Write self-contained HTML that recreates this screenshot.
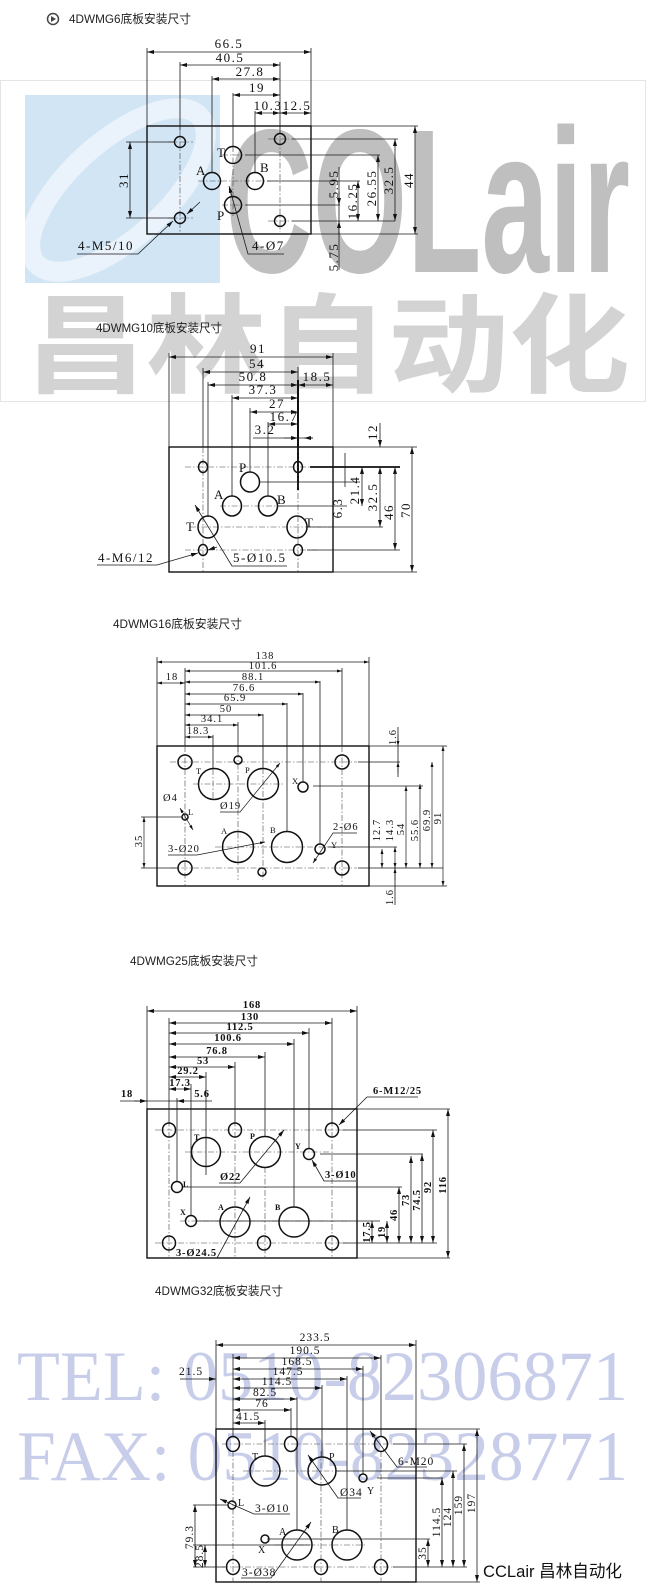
<!DOCTYPE html>
<html><head><meta charset="utf-8"><style>
html,body{margin:0;padding:0;background:#fff;}
svg{display:block}
</style></head><body>
<svg width="647" height="1592" viewBox="0 0 647 1592" xmlns="http://www.w3.org/2000/svg">
<defs>
<marker id="a" markerUnits="userSpaceOnUse" markerWidth="7" markerHeight="4" refX="7" refY="2" orient="auto-start-reverse"><path d="M0,0L7,2L0,4z" fill="#111"/></marker>
<marker id="s" markerUnits="userSpaceOnUse" markerWidth="5" markerHeight="3" refX="5" refY="1.5" orient="auto-start-reverse"><path d="M0,0L5,1.5L0,3z" fill="#111"/></marker>
<clipPath id="bc"><rect x="25" y="95" width="195" height="188"/></clipPath>
</defs>
<style>
.l{stroke:#1a1a1a;stroke-width:.8;fill:none}
.d{stroke:#1a1a1a;stroke-width:.8;fill:none;marker-start:url(#a);marker-end:url(#a)}
.e{stroke:#1a1a1a;stroke-width:.8;fill:none;marker-end:url(#a)}
.ds{stroke:#1a1a1a;stroke-width:.7;fill:none;marker-start:url(#s);marker-end:url(#s)}
.es{stroke:#1a1a1a;stroke-width:.7;fill:none;marker-end:url(#s)}
.c{stroke:#111;stroke-width:1.5;fill:none}
.k{stroke:#444;stroke-width:.6;fill:none;stroke-dasharray:6 2 1.5 2}
.r{stroke:#111;stroke-width:1.4;fill:none}
.t{font-family:"Liberation Serif",serif;fill:#111}
.m{text-anchor:middle}
</style>

<!-- watermark -->
<rect x="0.5" y="80.5" width="645" height="321" fill="none" stroke="#e4e4e4"/>
<rect x="25" y="95" width="195" height="188" fill="#d2e5f4"/>
<g clip-path="url(#bc)">
<ellipse cx="118" cy="190" rx="110" ry="48" transform="rotate(-42 118 190)" fill="none" stroke="#eef5fb" stroke-width="20" opacity=".85"/>
</g>
<text x="225" y="272" font-family="Liberation Sans, sans-serif" font-weight="bold" font-size="205" fill="#bfbfbf" textLength="405" lengthAdjust="spacingAndGlyphs">COLair</text>
<text x="25" y="384" font-family="Noto Sans CJK SC, sans-serif" font-weight="bold" font-size="108" fill="#d3d3d3" textLength="605" lengthAdjust="spacingAndGlyphs">昌林自动化</text>
<text x="17" y="1400" font-family="Liberation Serif, serif" font-size="71" fill="#c8cee9" textLength="611" lengthAdjust="spacingAndGlyphs">TEL: 0510-82306871</text>
<text x="17" y="1480" font-family="Liberation Serif, serif" font-size="71" fill="#c8cee9" textLength="611" lengthAdjust="spacingAndGlyphs">FAX: 0510-82328771</text>

<!-- titles -->
<circle cx="53" cy="19" r="5.5" fill="#fff" stroke="#444" stroke-width="1.5"/>
<path d="M51 16L56 19L51 22z" fill="#444"/>
<g font-family="Liberation Sans, Noto Sans CJK SC, sans-serif" font-size="12" fill="#222">
<text x="69" y="23" textLength="122" lengthAdjust="spacingAndGlyphs">4DWMG6底板安装尺寸</text>
<text x="96" y="332" textLength="126" lengthAdjust="spacingAndGlyphs">4DWMG10底板安装尺寸</text>
<text x="113" y="628" textLength="129" lengthAdjust="spacingAndGlyphs">4DWMG16底板安装尺寸</text>
<text x="130" y="965" textLength="128" lengthAdjust="spacingAndGlyphs">4DWMG25底板安装尺寸</text>
<text x="155" y="1295" textLength="128" lengthAdjust="spacingAndGlyphs">4DWMG32底板安装尺寸</text>
</g>

<!-- ================= G6 ================= -->
<rect class="r" x="147" y="126" width="164" height="108"/>
<path class="l" d="M147 48V126 M311 48V126 M180 62V130 M212 76V172 M233 93V146 M255 111V172 M280 62V133"/>
<path class="k" d="M180 130V232 M280 128V232 M233 146V216 M198 181H270 M168 142H193 M168 218H193 M268 139H292 M268 221H292 M222 155H245 M222 205H245"/>
<circle class="c" cx="180" cy="142" r="5.5"/>
<circle class="c" cx="180" cy="218" r="5.5"/>
<circle class="c" cx="280" cy="139" r="5.5"/>
<circle class="c" cx="280" cy="221" r="5.5"/>
<circle class="c" cx="233" cy="155" r="8.5"/>
<circle class="c" cx="212" cy="181" r="8.5"/>
<circle class="c" cx="255" cy="181" r="8.5"/>
<circle class="c" cx="233" cy="205" r="8.5"/>
<line class="d" x1="147" y1="52" x2="311" y2="52"/>
<line class="d" x1="180" y1="65" x2="280" y2="65"/>
<line class="d" x1="212" y1="79" x2="280" y2="79"/>
<line class="d" x1="233" y1="95" x2="280" y2="95"/>
<line class="d" x1="255" y1="113" x2="280" y2="113"/>
<line class="d" x1="280" y1="113" x2="311" y2="113"/>
<path class="l" d="M311 126H418 M311 234H418 M292 139H398 M245 155H380 M267 181H360 M245 205H340 M292 221H395 M126 142H174 M126 218H174 M339 167V270"/>
<line class="d" x1="415" y1="126" x2="415" y2="234"/>
<line class="d" x1="395" y1="139" x2="395" y2="221"/>
<line class="d" x1="378" y1="155" x2="378" y2="221"/>
<line class="d" x1="358" y1="181" x2="358" y2="221"/>
<line class="e" x1="339" y1="192" x2="339" y2="205"/>
<line class="e" x1="339" y1="234" x2="339" y2="221"/>
<line class="d" x1="130" y1="142" x2="130" y2="218"/>
<path class="e" d="M77 254H138L173 221"/>
<line class="e" x1="200" y1="202" x2="187" y2="214"/>
<path class="e" d="M284 254H248L229 186"/>
<g class="t" font-size="13" letter-spacing="1.5">
<text class="m" x="229" y="48">66.5</text>
<text class="m" x="230" y="62">40.5</text>
<text class="m" x="250" y="76">27.8</text>
<text class="m" x="257" y="92">19</text>
<text class="m" x="268" y="110">10.3</text>
<text class="m" x="297" y="110">12.5</text>
<text class="m" transform="translate(413,180) rotate(-90)">44</text>
<text class="m" transform="translate(393,180) rotate(-90)">32.5</text>
<text class="m" transform="translate(376,188) rotate(-90)">26.55</text>
<text class="m" transform="translate(357,201) rotate(-90)">16.25</text>
<text class="m" transform="translate(338,184) rotate(-90)">5.95</text>
<text class="m" transform="translate(338,257) rotate(-90)">5.75</text>
<text class="m" transform="translate(128,180) rotate(-90)">31</text>
<text x="78" y="250">4-M5/10</text>
<text x="252" y="250">4-Ø7</text>
<text x="217" y="157" letter-spacing="0">T</text>
<text x="196" y="175" letter-spacing="0">A</text>
<text x="260" y="172" letter-spacing="0">B</text>
<text x="217" y="220" letter-spacing="0">P</text>
</g>

<!-- ================= G10 ================= -->
<rect class="r" x="169" y="447" width="164" height="125"/>
<path class="l" d="M169 353V447 M333 353V447 M203 368V447 M208 382V517 M232 395V496 M250 408V472 M268 422V496 M298 367V460"/>
<path d="M298 380V490" stroke="#111" stroke-width="2"/>
<path class="k" d="M203 447V572 M298 447V572 M185 467H318 M220 506H285 M190 527H330 M185 550H318"/>
<ellipse class="c" cx="203" cy="467" rx="4.5" ry="5.5"/>
<ellipse class="c" cx="298" cy="467" rx="4.5" ry="5.5"/>
<ellipse class="c" cx="203" cy="550" rx="4.5" ry="5.5"/>
<ellipse class="c" cx="298" cy="550" rx="4.5" ry="5.5"/>
<ellipse class="c" cx="250" cy="482" rx="9.5" ry="10"/>
<ellipse class="c" cx="232" cy="506" rx="9.5" ry="10"/>
<ellipse class="c" cx="268" cy="506" rx="9.5" ry="10"/>
<ellipse class="c" cx="208" cy="527" rx="10" ry="11"/>
<ellipse class="c" cx="297" cy="527" rx="10" ry="11"/>
<line class="d" x1="169" y1="357" x2="333" y2="357"/>
<line class="d" x1="203" y1="372" x2="298" y2="372"/>
<line class="d" x1="208" y1="385" x2="298" y2="385"/>
<line class="d" x1="298" y1="385" x2="333" y2="385"/>
<line class="d" x1="232" y1="398" x2="298" y2="398"/>
<line class="d" x1="250" y1="412" x2="298" y2="412"/>
<line class="d" x1="268" y1="424" x2="298" y2="424"/>
<path class="l" d="M253 438H313"/>
<line class="e" x1="284" y1="438" x2="298" y2="438"/>
<line class="e" x1="313" y1="438" x2="304" y2="438"/>
<path class="l" d="M333 447H417 M333 572H417 M260 482H360 M277 506H347 M307 527H383 M307 550H400 M345 453V487"/>
<path d="M310 467H400" stroke="#111" stroke-width="1.8"/>
<line class="e" x1="380" y1="423" x2="380" y2="447"/>
<line class="d" x1="380" y1="467" x2="380" y2="527"/>
<line class="d" x1="362" y1="467" x2="362" y2="506"/>
<line class="d" x1="395" y1="467" x2="395" y2="550"/>
<line class="d" x1="412" y1="447" x2="412" y2="572"/>
<path class="e" d="M97 565H157L198 553"/>
<line class="e" x1="217" y1="547" x2="208" y2="550"/>
<path class="e" d="M287 566H232L195 505"/>
<g class="t" font-size="13" letter-spacing="1.5">
<text class="m" x="258" y="353">91</text>
<text class="m" x="257" y="368">54</text>
<text class="m" x="253" y="381">50.8</text>
<text class="m" x="317" y="381">18.5</text>
<text class="m" x="263" y="394">37.3</text>
<text class="m" x="277" y="408">27</text>
<text class="m" x="284" y="421">16.7</text>
<text class="m" x="265" y="434">3.2</text>
<text class="m" transform="translate(377,432) rotate(-90)">12</text>
<text class="m" transform="translate(377,497) rotate(-90)">32.5</text>
<text class="m" transform="translate(359,490) rotate(-90)">21.4</text>
<text class="m" transform="translate(342,508) rotate(-90)">6.3</text>
<text class="m" transform="translate(393,512) rotate(-90)">46</text>
<text class="m" transform="translate(410,510) rotate(-90)">70</text>
<text x="98" y="562">4-M6/12</text>
<text x="233" y="562">5-Ø10.5</text>
<text x="239" y="472" letter-spacing="0">P</text>
<text x="214" y="499" letter-spacing="0">A</text>
<text x="277" y="504" letter-spacing="0">B</text>
<text x="186" y="531" letter-spacing="0">T</text>
<text x="305" y="527" letter-spacing="0">T</text>
</g>

<!-- ================= G16 ================= -->
<rect class="r" x="157" y="746" width="212" height="140"/>
<path class="l" d="M157 657V746 M369 657V746 M185 668V746 M213 735V769 M238 722V752 M263 714V768 M287 703V832 M303 693V782 M320 681V844 M342 668V746"/>
<path class="k" d="M185 746V886 M342 746V886 M238 752V880 M263 768V880 M213 769V800 M170 762H357 M193 784H285 M215 847H340 M170 868H357"/>
<circle class="c" cx="185" cy="762" r="7"/>
<circle class="c" cx="342" cy="762" r="7"/>
<circle class="c" cx="185" cy="868" r="7"/>
<circle class="c" cx="342" cy="868" r="7"/>
<circle class="c" cx="238" cy="760" r="4"/>
<circle class="c" cx="262" cy="872" r="4"/>
<circle class="c" cx="214" cy="784" r="15.5"/>
<circle class="c" cx="263" cy="784" r="15.5"/>
<circle class="c" cx="238" cy="847" r="15.5"/>
<circle class="c" cx="287" cy="847" r="15.5"/>
<circle class="c" cx="303" cy="787" r="5"/>
<circle class="c" cx="320" cy="849" r="5"/>
<circle class="c" cx="185" cy="817" r="3"/>
<line class="ds" x1="157" y1="662" x2="369" y2="662"/>
<line class="ds" x1="185" y1="671" x2="342" y2="671"/>
<line class="ds" x1="185" y1="682" x2="320" y2="682"/>
<line class="ds" x1="157" y1="683" x2="185" y2="683"/>
<line class="ds" x1="185" y1="694" x2="303" y2="694"/>
<line class="ds" x1="185" y1="704" x2="287" y2="704"/>
<line class="ds" x1="185" y1="715" x2="263" y2="715"/>
<line class="ds" x1="185" y1="725" x2="238" y2="725"/>
<line class="ds" x1="185" y1="737" x2="213" y2="737"/>
<path class="l" d="M369 746H447 M369 886H447 M358 762H400 M313 786H423 M328 847H397 M358 868H443 M141 817H182 M141 868H178 M398 727V777 M395 868V905"/>
<line class="es" x1="398" y1="735" x2="398" y2="746"/>
<line class="es" x1="398" y1="773" x2="398" y2="762"/>
<line class="es" x1="395" y1="880" x2="395" y2="868"/>
<line class="ds" x1="382" y1="849" x2="382" y2="868"/>
<line class="ds" x1="395" y1="847" x2="395" y2="868"/>
<line class="ds" x1="406" y1="786" x2="406" y2="868"/>
<line class="ds" x1="420" y1="784" x2="420" y2="868"/>
<line class="ds" x1="432" y1="762" x2="432" y2="868"/>
<line class="ds" x1="443" y1="746" x2="443" y2="886"/>
<line class="ds" x1="144" y1="817" x2="144" y2="868"/>
<line class="ds" x1="180" y1="808" x2="193" y2="830"/>
<path class="es" d="M220 812H240L280 763"/>
<path class="es" d="M168 855H197L265 842"/>
<path class="es" d="M357 833H333L313 863"/>
<g class="t" font-size="10.5" letter-spacing="1">
<text class="m" x="265" y="659">138</text>
<text class="m" x="263" y="669">101.6</text>
<text class="m" x="253" y="680">88.1</text>
<text class="m" x="172" y="680">18</text>
<text class="m" x="244" y="691">76.6</text>
<text class="m" x="235" y="701">65.9</text>
<text class="m" x="226" y="712">50</text>
<text class="m" x="212" y="722">34.1</text>
<text class="m" x="198" y="734">18.3</text>
<text class="m" transform="translate(396,737) rotate(-90)">1.6</text>
<text class="m" transform="translate(393,897) rotate(-90)">1.6</text>
<text class="m" transform="translate(380,830) rotate(-90)">12.7</text>
<text class="m" transform="translate(393,830) rotate(-90)">14.3</text>
<text class="m" transform="translate(404,829) rotate(-90)">54</text>
<text class="m" transform="translate(418,830) rotate(-90)">55.6</text>
<text class="m" transform="translate(430,820) rotate(-90)">69.9</text>
<text class="m" transform="translate(441,818) rotate(-90)">91</text>
<text class="m" transform="translate(142,841) rotate(-90)">35</text>
<text x="163" y="801">Ø4</text>
<text x="220" y="809">Ø19</text>
<text x="168" y="852">3-Ø20</text>
<text x="333" y="830">2-Ø6</text>
</g>
<g class="t" font-size="8.5">
<text x="196" y="774">T</text>
<text x="245" y="773">P</text>
<text x="292" y="784">X</text>
<text x="221" y="834">A</text>
<text x="270" y="833">B</text>
<text x="331" y="848">Y</text>
<text x="188" y="815">L</text>
</g>

<!-- ================= G25 ================= -->
<rect class="r" x="147" y="1109" width="210" height="149"/>
<path class="l" d="M147 1006V1109 M357 1006V1109 M169 1018V1123 M177 1098V1181 M191 1084V1215 M206 1072V1175 M235 1062V1123 M265 1052V1137 M294 1039V1207 M309 1028V1148 M332 1018V1123"/>
<path class="k" d="M169 1109V1258 M235 1109V1258 M332 1109V1258 M265 1167V1258 M155 1130H345 M185 1152H330 M180 1221H350 M155 1243H345"/>
<ellipse class="c" cx="169" cy="1130" rx="6.5" ry="7"/>
<ellipse class="c" cx="235" cy="1130" rx="6.5" ry="7"/>
<ellipse class="c" cx="332" cy="1130" rx="6.5" ry="7"/>
<ellipse class="c" cx="169" cy="1243" rx="6.5" ry="7"/>
<ellipse class="c" cx="264" cy="1243" rx="6.5" ry="7"/>
<ellipse class="c" cx="332" cy="1243" rx="6.5" ry="7"/>
<circle class="c" cx="206" cy="1152" r="14.5"/>
<circle class="c" cx="265" cy="1152" r="15.5"/>
<circle class="c" cx="235" cy="1222" r="15"/>
<circle class="c" cx="294" cy="1222" r="15"/>
<circle class="c" cx="309" cy="1154" r="5.5"/>
<circle class="c" cx="177" cy="1187" r="5.5"/>
<circle class="c" cx="191" cy="1221" r="5.5"/>
<line class="d" x1="147" y1="1011" x2="357" y2="1011"/>
<line class="d" x1="169" y1="1023" x2="332" y2="1023"/>
<line class="d" x1="169" y1="1033" x2="309" y2="1033"/>
<line class="d" x1="169" y1="1044" x2="294" y2="1044"/>
<line class="d" x1="169" y1="1057" x2="265" y2="1057"/>
<line class="d" x1="169" y1="1067" x2="235" y2="1067"/>
<line class="d" x1="169" y1="1077" x2="206" y2="1077"/>
<line class="d" x1="169" y1="1089" x2="191" y2="1089"/>
<path class="l" d="M120 1101H212"/>
<line class="e" x1="134" y1="1101" x2="147" y2="1101"/>
<line class="e" x1="185" y1="1101" x2="177" y2="1101"/>
<path class="l" d="M357 1109H450 M357 1258H450 M343 1130H437 M320 1154H423 M183 1187H402 M197 1221H380 M343 1243H437"/>
<line class="d" x1="448" y1="1109" x2="448" y2="1258"/>
<line class="d" x1="433" y1="1130" x2="433" y2="1243"/>
<line class="d" x1="422" y1="1154" x2="422" y2="1243"/>
<line class="d" x1="411" y1="1156" x2="411" y2="1243"/>
<line class="d" x1="399" y1="1187" x2="399" y2="1243"/>
<line class="d" x1="387" y1="1221" x2="387" y2="1243"/>
<line class="d" x1="372" y1="1221" x2="372" y2="1243"/>
<path class="e" d="M418 1097H367L339 1125"/>
<path class="e" d="M219 1183H240L284 1130"/>
<path class="e" d="M356 1181H324L312 1160"/>
<path class="e" d="M175 1258H217L250 1197"/>
<g class="t" font-size="10.5" font-weight="bold" letter-spacing="0.8">
<text class="m" x="252" y="1008">168</text>
<text class="m" x="250" y="1020">130</text>
<text class="m" x="240" y="1030">112.5</text>
<text class="m" x="228" y="1041">100.6</text>
<text class="m" x="217" y="1054">76.8</text>
<text class="m" x="203" y="1064">53</text>
<text class="m" x="188" y="1074">29.2</text>
<text class="m" x="180" y="1086">17.3</text>
<text class="m" x="127" y="1097">18</text>
<text class="m" x="202" y="1097">5.6</text>
<text class="m" transform="translate(446,1185) rotate(-90)">116</text>
<text class="m" transform="translate(431,1187) rotate(-90)">92</text>
<text class="m" transform="translate(420,1200) rotate(-90)">74.5</text>
<text class="m" transform="translate(409,1200) rotate(-90)">73</text>
<text class="m" transform="translate(397,1215) rotate(-90)">46</text>
<text class="m" transform="translate(385,1232) rotate(-90)">19</text>
<text class="m" transform="translate(370,1232) rotate(-90)">17.5</text>
<text x="373" y="1094">6-M12/25</text>
<text x="220" y="1180">Ø22</text>
<text x="325" y="1178">3-Ø10</text>
<text x="176" y="1256">3-Ø24.5</text>
</g>
<g class="t" font-size="8" font-weight="bold">
<text x="194" y="1140">T</text>
<text x="250" y="1139">P</text>
<text x="295" y="1149">Y</text>
<text x="183" y="1187">L</text>
<text x="180" y="1215">X</text>
<text x="218" y="1210">A</text>
<text x="275" y="1210">B</text>
</g>

<!-- ================= G32 ================= -->
<rect class="r" x="216" y="1429" width="200" height="153"/>
<path class="l" d="M216 1340V1429 M416 1340V1429 M233 1354V1437 M265 1420V1456 M291 1408V1437 M297 1397V1530 M322 1385V1457 M347 1376V1530 M363 1366V1474 M381 1355V1437"/>
<path class="k" d="M233 1451V1582 M381 1451V1582 M321 1451V1582 M222 1444H395 M243 1471H345 M275 1545H365 M222 1567H395"/>
<ellipse class="c" cx="233" cy="1444" rx="6.5" ry="7.5"/>
<ellipse class="c" cx="291" cy="1444" rx="6.5" ry="7.5"/>
<ellipse class="c" cx="381" cy="1444" rx="6.5" ry="7.5"/>
<ellipse class="c" cx="233" cy="1567" rx="6.5" ry="7.5"/>
<ellipse class="c" cx="321" cy="1567" rx="6.5" ry="7.5"/>
<ellipse class="c" cx="381" cy="1567" rx="6.5" ry="7.5"/>
<circle class="c" cx="265" cy="1471" r="15"/>
<circle class="c" cx="322" cy="1471" r="14"/>
<circle class="c" cx="297" cy="1545" r="15"/>
<circle class="c" cx="347" cy="1545" r="15"/>
<circle class="c" cx="363" cy="1478" r="4"/>
<circle class="c" cx="232" cy="1505" r="4"/>
<circle class="c" cx="265" cy="1539" r="4"/>
<line class="d" x1="216" y1="1345" x2="416" y2="1345"/>
<line class="d" x1="233" y1="1358" x2="381" y2="1358"/>
<line class="d" x1="233" y1="1369" x2="363" y2="1369"/>
<line class="d" x1="233" y1="1379" x2="347" y2="1379"/>
<line class="e" x1="180" y1="1379" x2="216" y2="1379"/>
<line class="d" x1="233" y1="1388" x2="322" y2="1388"/>
<line class="d" x1="233" y1="1399" x2="297" y2="1399"/>
<line class="d" x1="233" y1="1410" x2="291" y2="1410"/>
<line class="d" x1="233" y1="1423" x2="265" y2="1423"/>
<path class="l" d="M416 1429H480 M416 1582H480 M393 1444H467 M337 1471H457 M377 1478H443 M267 1539H430 M193 1545H310 M393 1567H467 M193 1567H225 M193 1505H228"/>
<line class="d" x1="477" y1="1429" x2="477" y2="1582"/>
<line class="d" x1="464" y1="1444" x2="464" y2="1567"/>
<line class="d" x1="453" y1="1471" x2="453" y2="1567"/>
<line class="d" x1="442" y1="1478" x2="442" y2="1567"/>
<line class="d" x1="428" y1="1539" x2="428" y2="1567"/>
<line class="d" x1="195" y1="1505" x2="195" y2="1567"/>
<line class="d" x1="205" y1="1545" x2="205" y2="1567"/>
<path class="e" d="M427 1467H397L370 1431"/>
<path class="e" d="M361 1498H338L308 1455"/>
<path class="e" d="M290 1514H254L220 1499"/>
<path class="e" d="M241 1578H271L311 1522"/>
<g class="t" font-size="11.5" letter-spacing="1">
<text class="m" x="315" y="1341">233.5</text>
<text class="m" x="305" y="1354">190.5</text>
<text class="m" x="297" y="1365">168.5</text>
<text class="m" x="288" y="1375">147.5</text>
<text class="m" x="191" y="1375">21.5</text>
<text class="m" x="277" y="1385">114.5</text>
<text class="m" x="265" y="1396">82.5</text>
<text class="m" x="262" y="1407">76</text>
<text class="m" x="248" y="1420">41.5</text>
<text class="m" transform="translate(475,1503) rotate(-90)">197</text>
<text class="m" transform="translate(462,1505) rotate(-90)">159</text>
<text class="m" transform="translate(451,1517) rotate(-90)">124</text>
<text class="m" transform="translate(440,1522) rotate(-90)">114.5</text>
<text class="m" transform="translate(426,1553) rotate(-90)">35</text>
<text class="m" transform="translate(193,1537) rotate(-90)">79.3</text>
<text class="m" transform="translate(203,1556) rotate(-90)">28.5</text>
<text x="398" y="1465">6-M20</text>
<text x="340" y="1496">Ø34</text>
<text x="255" y="1512">3-Ø10</text>
<text x="242" y="1576">3-Ø38</text>
</g>
<g class="t" font-size="10">
<text x="252" y="1460">T</text>
<text x="329" y="1460">P</text>
<text x="367" y="1494">Y</text>
<text x="238" y="1506">L</text>
<text x="258" y="1553">X</text>
<text x="279" y="1535">A</text>
<text x="332" y="1533">B</text>
</g>

<text x="483" y="1577" font-family="Liberation Sans, Noto Sans CJK SC, sans-serif" font-size="17" fill="#111" textLength="139" lengthAdjust="spacingAndGlyphs">CCLair 昌林自动化</text>
</svg>
</body></html>
